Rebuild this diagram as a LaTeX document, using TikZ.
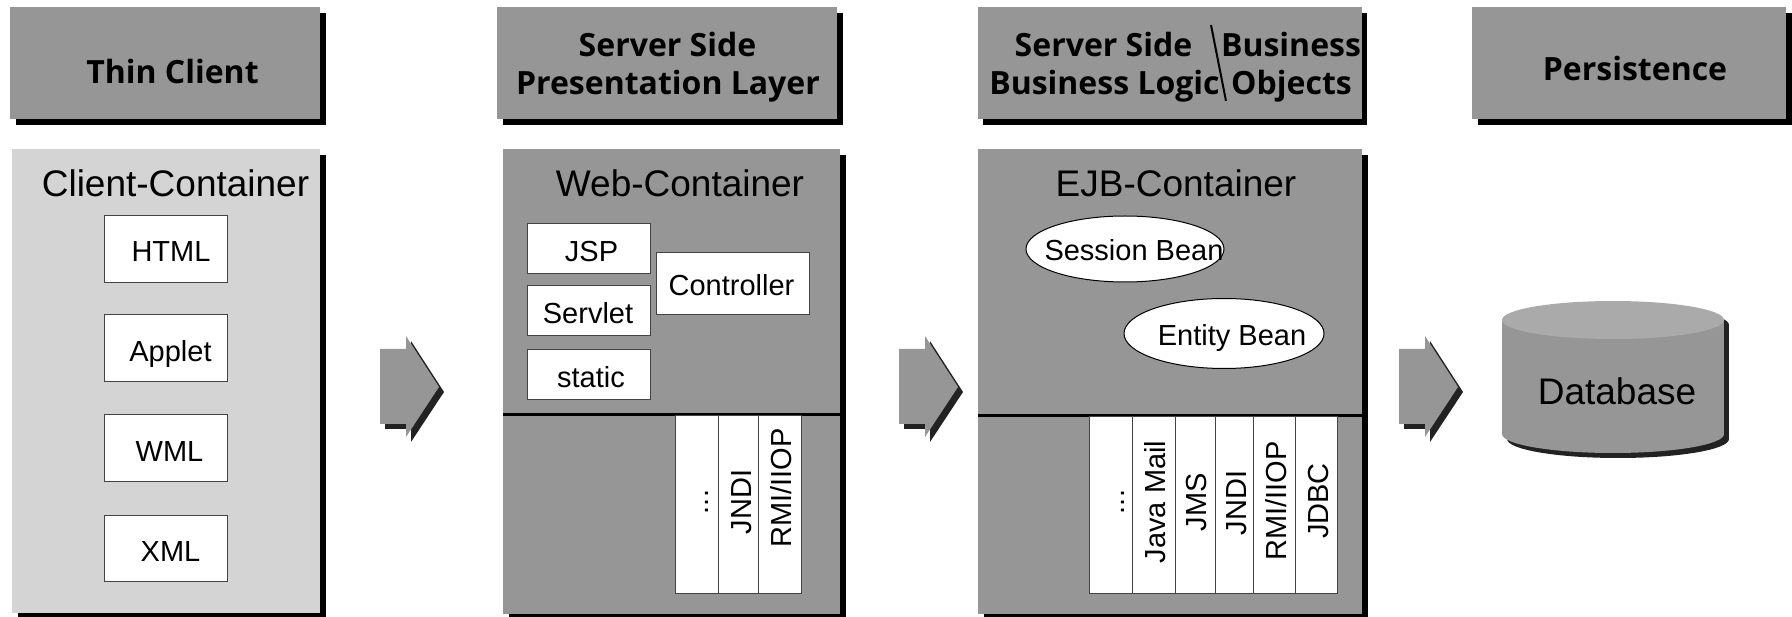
\documentclass[tikz,border=0pt]{standalone}
\usepackage{fontspec}
\setmainfont{Liberation Sans}
\newfontfamily\headfont{Open Sans}[BoldFont={Open Sans Bold}]
\usetikzlibrary{shapes.geometric}
\definecolor{panelgray}{HTML}{969696}
\definecolor{panellight}{HTML}{D4D4D4}
\definecolor{cyltop}{HTML}{AAAAAA}
\definecolor{darkshade}{HTML}{222222}
\definecolor{edgegray}{HTML}{444444}
\tikzset{
  panel/.style={fill=panelgray,draw=none,inner sep=0pt,outer sep=0pt},
  lightpanel/.style={fill=panellight,draw=none,inner sep=0pt,outer sep=0pt},
  shade/.style={fill=black,draw=none,inner sep=0pt,outer sep=0pt},
  whitebox/.style={fill=white,draw=edgegray,line width=1pt,inner sep=0pt,outer sep=0pt},
  whiteell/.style={ellipse,fill=white,draw=black,line width=1pt,inner sep=0pt,outer sep=0pt},
  headtext/.style={anchor=base,inner sep=0pt,outer sep=0pt,font=\headfont\bfseries\fontsize{32}{38}\selectfont},
  titletext/.style={anchor=base,inner sep=0pt,outer sep=0pt,font=\fontsize{37}{44}\selectfont},
  itemtext/.style={anchor=base,inner sep=0pt,outer sep=0pt,font=\fontsize{29}{34}\selectfont},
  vertext/.style={itemtext,rotate=90},
}
% name, style, x1, y1, x2, y2
\newcommand\pxbox[6]{\node[#2,minimum width={(#5-#3)*1pt},minimum height={(#6-#4)*1pt}] (#1) at ({(#3+#5)/2},{(#4+#6)/2}) {};}
\begin{document}
\begin{tikzpicture}[x=1pt,y=-1pt]
\useasboundingbox (0,0) rectangle (1792,617);
% header boxes
\pxbox{hs1}{shade}{16}{13}{326}{125}
\pxbox{h1}{panel}{10}{7}{320}{119}
\pxbox{hs2}{shade}{503}{13}{843}{125}
\pxbox{h2}{panel}{497}{7}{837}{119}
\pxbox{hs3}{shade}{983}{13}{1367}{125}
\pxbox{h3}{panel}{978}{7}{1362}{119}
\pxbox{hs4}{shade}{1478}{13}{1792}{125}
\pxbox{h4}{panel}{1472}{7}{1786}{119}
\node[headtext] (t1) at (172.5,84) {Thin Client};
\node[headtext] (t2a) at (667.5,57) {Server Side};
\node[headtext] (t2b) at (668,95) {Presentation Layer};
\node[headtext] (t3a) at (1103.5,57) {Server Side};
\node[headtext] (t3b) at (1291,57) {Business};
\node[headtext] (t3c) at (1104.5,95) {Business Logic};
\node[headtext] (t3d) at (1291.5,95) {Objects};
\node[headtext] (t4) at (1635,81) {Persistence};
\coordinate (slashA) at (1211,25);
\coordinate (slashB) at (1226,101);
\draw[line width=2pt] (slashA) -- (slashB);
% containers
\pxbox{cs1}{shade}{18}{155}{326}{617}
\pxbox{c1}{lightpanel}{12}{149}{320}{613}
\pxbox{cs2}{shade}{509}{155}{846}{617}
\pxbox{c2}{panel}{503}{149}{840}{614}
\pxbox{cs3}{shade}{984}{155}{1368}{617}
\pxbox{c3}{panel}{978}{149}{1362}{614}
\node[titletext] (ct1) at (175.5,197) {Client-Container};
\node[titletext] (ct2) at (680,197) {Web-Container};
\node[titletext] (ct3) at (1176,197) {EJB-Container};
% client items
\pxbox{b1}{whitebox}{104}{216}{227}{282.5}
\pxbox{b2}{whitebox}{104}{315}{227}{381.5}
\pxbox{b3}{whitebox}{104}{415}{227}{481.5}
\pxbox{b4}{whitebox}{104}{515}{227}{581.5}
\node[itemtext] (bt1) at (171,262) {HTML};
\node[itemtext] (bt2) at (170.5,362) {Applet};
\node[itemtext] (bt3) at (169.5,461) {WML};
\node[itemtext] (bt4) at (170.5,561) {XML};
% web items
\pxbox{w1}{whitebox}{527}{224}{650.5}{274}
\pxbox{w2}{whitebox}{527}{286}{650.5}{335.5}
\pxbox{w3}{whitebox}{527}{350}{650.5}{399.5}
\pxbox{w4}{whitebox}{656}{253}{809.5}{315}
\node[itemtext] (wt1) at (591.5,262) {JSP};
\node[itemtext] (wt2) at (588,324) {Servlet};
\node[itemtext] (wt3) at (591,388) {static};
\node[itemtext] (wt4) at (731.5,296) {Controller};
\coordinate (webL) at (503,414.5);
\coordinate (webR) at (840,414.5);
\draw[line width=3pt] (webL) -- (webR);
\pxbox{wc1}{whitebox}{675}{416}{718}{593}
\pxbox{wc2}{whitebox}{718}{416}{758}{593}
\pxbox{wc3}{whitebox}{758}{416}{801}{593}
\node[vertext] (wv1) at (708,502) {...};
\node[vertext] (wv2) at (751,502) {JNDI};
\node[vertext] (wv3) at (791,488) {RMI/IIOP};
% ejb items
\node[whiteell,minimum width=198pt,minimum height=66pt] (e1) at (1125,249) {};
\node[whiteell,minimum width=200pt,minimum height=70pt] (e2) at (1224,333.5) {};
\node[itemtext] (et1) at (1134,261) {Session Bean};
\node[itemtext] (et2) at (1232,346) {Entity Bean};
\coordinate (ejbL) at (978,416);
\coordinate (ejbR) at (1362,416);
\draw[line width=3pt] (ejbL) -- (ejbR);
\pxbox{ec1}{whitebox}{1089}{417}{1132}{593}
\pxbox{ec2}{whitebox}{1132}{417}{1175}{593}
\pxbox{ec3}{whitebox}{1175}{417}{1215}{593}
\pxbox{ec4}{whitebox}{1215}{417}{1253}{593}
\pxbox{ec5}{whitebox}{1253}{417}{1295}{593}
\pxbox{ec6}{whitebox}{1295}{417}{1337}{593}
\node[vertext] (ev1) at (1124,502) {...};
\node[vertext] (ev2) at (1165,502) {Java Mail};
\node[vertext] (ev3) at (1206,502) {JMS};
\node[vertext] (ev4) at (1246,503) {JNDI};
\node[vertext] (ev5) at (1286,501) {RMI/IIOP};
\node[vertext] (ev6) at (1328,501) {JDBC};
% block arrows
\foreach \ax in {380,899,1399}{
  \begin{scope}[shift={(\ax,0)}]
    \fill[darkshade] (5,354) -- (31,354) -- (31,341) -- (64,392) -- (31,442) -- (31,429) -- (5,429) -- cycle;
    \fill[panelgray] (0,349) -- (26,349) -- (26,336) -- (59,387) -- (26,437) -- (26,424) -- (0,424) -- cycle;
  \end{scope}
}
% database
\fill[darkshade] (1507,325) rectangle (1729,439);
\fill[darkshade] (1618,325) ellipse [x radius=111,y radius=19];
\fill[darkshade] (1618,439) ellipse [x radius=111,y radius=19];
\fill[panelgray] (1502,320) rectangle (1724,434);
\fill[panelgray] (1613,434) ellipse [x radius=111,y radius=19];
\fill[cyltop] (1613,320) ellipse [x radius=111,y radius=19];
\node[titletext] (db) at (1617,405) {Database};
\end{tikzpicture}
\end{document}
